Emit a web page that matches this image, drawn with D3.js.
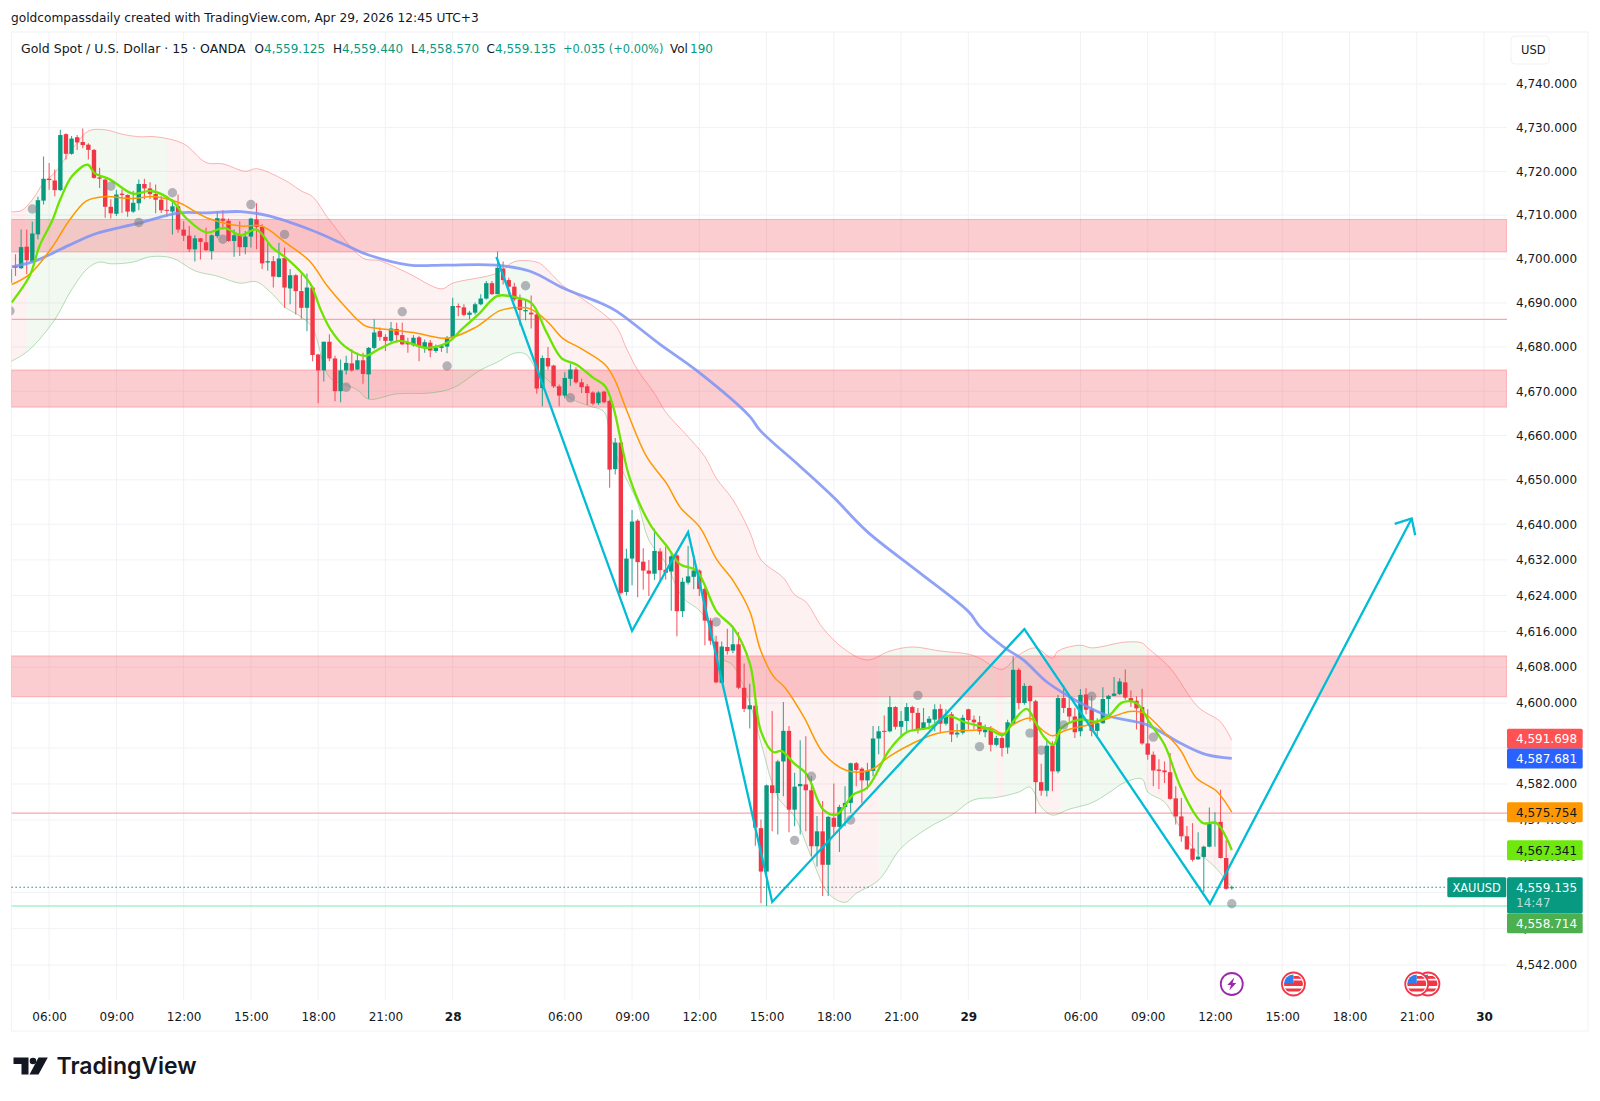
<!DOCTYPE html>
<html>
<head>
<meta charset="utf-8">
<script src="https://cdn.jsdelivr.net/npm/d3@7"></script>
<style>
  html, body { margin: 0; padding: 0; background: #fff; }
  text { font-family: "DejaVu Sans", sans-serif; }
</style>
</head>
<body>
<svg id="chart" width="1600" height="1101"></svg>
<script>
// 15 minute candles, bar 0 is the first bar of the 28th
const firstBar = -79;
const opens = [4694.6,4698.4,4697.9,4702.8,4699.4,4705.6,4713.3,4718.3,4717.9,4715.7,4728.5,4724,4727.8,4726.7,4726.1,4724.9,4718.6,4718.1,4711.9,4710.3,4714.9,4714.6,4710.8,4712.7,4717.1,4716.1,4714.8,4713.5,4711.2,4710.8,4712,4706.7,4705.3,4702.2,4704.7,4703.8,4701.8,4705.2,4709.2,4708.7,4704.1,4705.4,4702.7,4705.1,4709,4707.3,4699.2,4699.5,4695.9,4700.2,4693.3,4696.3,4692.7,4688.9,4693.5,4678.3,4674.7,4681.2,4677.4,4670,4674.7,4676.3,4674.9,4677,4673.8,4679.8,4683.6,4682.3,4681.4,4684.1,4682.7,4681,4680.4,4682.2,4680,4681,4679.1,4679.8,4680.1,
  4682.3,4689.3,4689,4687.3,4687.8,4689.7,4691,4694.5,4692,4697.8,4695.2,4693.7,4690.8,4688.1,4687.8,4687.4,4670.7,4677.5,4675.8,4671.1,4669,4672.8,4674.9,4672,4671.1,4669.7,4667.3,4669.9,4667.8,4652.4,4658.4,4624.8,4632.3,4640.8,4631.6,4629.6,4628.9,4633.9,4629.8,4629.4,4633,4620.5,4626.9,4628.2,4629.6,4625.5,4618.4,4613.7,4604.5,4612.5,4611.7,4613.1,4603.4,4598.6,4599.4,4572.2,4562.6,4581.7,4580,4587,4593.8,4576.3,4581.5,4581.9,4580.6,4568.2,4571.5,4564.1,4574.5,4572.5,4576.9,4577.8,4586.6,4585.4,4582.8,4584.9,4592.1,4593.8,4593.7,4599.1,4594.7,4596,4599.1,4597.8,4594.3,4595.6,4596.3,4598.7,4595.4,4597.5,4593,4593.4,4598.6,4596.3,4595.7,4593.5,
  4594.1,4590.7,4592.2,4590.1,4595.5,4607.4,4600,4603.8,4600.4,4582.4,4580.5,4590.5,4584.8,4601.1,4598.9,4597,4593.7,4601.9,4598.6,4593.8,4595.5,4600.9,4601.6,4602,4604.6,4601.1,4600.5,4599.1,4591,4588.5,4585.2,4585,4584.6,4578.8,4574.8,4570.4,4567.7,4565.3,4565.8,4568.1,4573.2,4573.6,4565.6,4559.125];
const highs = [4698.4,4701.1,4706.7,4706.7,4708.5,4714.2,4723.4,4721.9,4720.4,4729.5,4728.7,4728.1,4728.3,4729.8,4726.4,4725.1,4720.8,4718.3,4713.6,4715.8,4715.8,4714.7,4715.5,4718.1,4718.3,4717.5,4717,4714.3,4714.2,4713.6,4714.7,4708.6,4707.5,4705.4,4704.8,4707.1,4705.6,4710.9,4711.1,4709.2,4706.7,4708.6,4706.4,4709.4,4712.7,4707.9,4703.7,4700.7,4703.7,4702.6,4697.7,4696.5,4696.5,4696.7,4693.9,4678.5,4681.2,4682.9,4678,4677.2,4678,4679.5,4678.7,4678.7,4680,4686.3,4684.4,4682.9,4685.7,4685.5,4685.5,4682.1,4682.7,4682.5,4681.7,4681.6,4680.6,4680.6,4682.5,
  4691.2,4689.9,4689.7,4688.2,4690.1,4692,4695,4695,4701.7,4699.4,4695.7,4694.6,4691.9,4690.9,4691.7,4687.8,4678.1,4680,4676,4671.5,4674.3,4676.2,4675.4,4672.8,4671.6,4670,4670,4670.1,4668.1,4659.4,4658.6,4634.5,4643.2,4641.1,4634.6,4632,4639,4634.6,4635,4633.7,4633.4,4628,4635.1,4633,4629.9,4626.1,4619,4615,4613.7,4616.6,4616.7,4615.8,4608.8,4604.3,4599.7,4574.1,4581.9,4598.2,4587.4,4600.2,4594.9,4584.5,4591.7,4592.6,4583.7,4574.9,4578.2,4574.9,4582.1,4577.4,4581.5,4586.7,4586.9,4585.7,4586.7,4594.9,4594.9,4597.2,4601.5,4599.3,4598.2,4600,4599.4,4598.9,4598.9,4597.1,4599.7,4599.7,4598.6,4598,4595.4,4597.4,4598.7,4597.2,4597.1,4595.2,
  4594.9,4592.7,4593.3,4596.3,4610.4,4607.8,4604.4,4604,4600.7,4586.5,4591.5,4591.5,4601.8,4604,4601.5,4598.9,4603.1,4603.3,4601.5,4596.6,4603.5,4601.8,4605.8,4605.5,4607.5,4602.8,4601.5,4603.2,4598.6,4589.2,4587.5,4587,4588.9,4581.5,4578.9,4572.7,4573.3,4571.3,4568.3,4576.8,4575.7,4580.7,4569.5,4559.44];
const lows = [4693.1,4696.1,4697.7,4696.5,4699.2,4704.5,4712.4,4715.8,4714.3,4715.5,4722.7,4723.8,4724.9,4725.3,4722.7,4718.3,4716.2,4709.4,4709.2,4709.8,4710.5,4709.6,4710.5,4711.1,4713.6,4713.7,4710.4,4710.5,4709.6,4705.6,4706,4704.1,4701.6,4699.4,4699.9,4701.8,4699.9,4704.8,4706.7,4703.9,4700.5,4700.7,4701.1,4702.6,4702.2,4697.7,4697.3,4693.5,4695.8,4688.9,4689.7,4687.4,4686.4,4683.6,4676.8,4667.3,4672.2,4676.8,4667.7,4667.5,4673.8,4674.4,4674.8,4671.7,4668.3,4679.5,4681.4,4679.1,4681,4681,4680.5,4678.7,4680.1,4676.8,4678.7,4677.7,4678.7,4678.9,4678.6,
  4682.1,4687,4687,4686.3,4687.4,4689.5,4690.8,4691.8,4692,4694.2,4691.9,4690.4,4684.9,4686.1,4684.2,4669.4,4666.6,4674.9,4670.7,4666.6,4668.4,4671.2,4671.7,4669.6,4666.9,4666.8,4666.9,4667.2,4648.2,4651.2,4624.2,4624,4626.3,4623.6,4625.3,4623.9,4627.5,4627.2,4627.6,4620.6,4614.9,4619.2,4626.5,4625.4,4623.9,4612.9,4613,4604.4,4604.3,4610.8,4611.1,4603.1,4598,4594.3,4568.3,4555.6,4555,4571.5,4570.8,4579.3,4571.3,4572.6,4570.8,4571.5,4566,4563.7,4557.2,4557.2,4570.8,4566.9,4572.6,4575.6,4581.5,4577.8,4580.8,4583.7,4588.6,4587.1,4593.5,4594.1,4592.3,4593.7,4593.7,4593.2,4594,4594.1,4593.7,4593.2,4595,4591.3,4592.3,4593,4594.1,4594.1,4593,4592.4,
  4589.2,4590.4,4588.1,4588.7,4595.2,4598.6,4599.6,4595.9,4575.5,4579.4,4579.2,4580.4,4584.4,4597.8,4595.9,4592.2,4592.6,4597.5,4592.6,4592.2,4595.4,4597.4,4601.5,4601.8,4600.7,4599.1,4594.1,4590.7,4587.4,4581.5,4580.9,4582.2,4578.5,4573,4569.2,4567.5,4564.8,4565.2,4558.1,4568,4568.1,4565.5,4558.6,4558.57];
const closes = [4697.7,4698,4702.7,4699.7,4705.8,4713.4,4718.3,4718,4715.7,4728.3,4724,4727.5,4726.6,4726,4724.9,4718.5,4718.3,4711.9,4710.4,4714.7,4714.6,4710.8,4712.8,4717.1,4716.1,4714.8,4713.5,4711.1,4711.1,4712,4706.7,4705.3,4702.2,4704.7,4703.9,4702,4705.4,4709.3,4708.7,4704.1,4705.4,4702.7,4705.1,4709.2,4707.3,4699,4699.5,4696,4700.1,4693.5,4696.3,4692.7,4688.9,4693.5,4678.2,4674.7,4681.2,4677.4,4670,4674.7,4676.4,4674.7,4677,4673.9,4679.8,4683.3,4682.3,4681.4,4684.2,4682.7,4680.6,4680.6,4682.1,4680,4681.1,4679.2,4679.8,4680.2,4682.1,
  4689.3,4689,4687.3,4687.8,4689.7,4691,4694.5,4692,4698,4695.2,4693.7,4690.8,4688.4,4688.4,4687.4,4670.6,4677.5,4675.6,4671.1,4669,4673,4674.9,4672,4670.9,4669.6,4667.2,4669.7,4667.5,4652.3,4658.4,4624.6,4632.3,4640.6,4631.5,4629.6,4628.9,4634,4629.7,4629.1,4632.8,4620.5,4627.1,4628.3,4629.6,4625.5,4618.4,4613.9,4604.6,4612.6,4611.6,4613.1,4603.4,4598.7,4599.5,4572.3,4562.6,4581.7,4580,4587,4593.8,4576.3,4581.4,4582,4580.6,4568.2,4571.5,4564.1,4574.7,4572.5,4576.9,4577.8,4586.6,4585.1,4582.8,4584.9,4592.1,4593.7,4593.6,4599.1,4594.7,4596,4599.1,4597.8,4594.1,4595.7,4596.5,4598.6,4595.4,4597.4,4593,4593.4,4596.7,4596.2,4595.7,4593.7,4594.1,
  4590.7,4592.2,4590,4595.7,4607.4,4600,4603.8,4600.4,4582.4,4580.5,4590.5,4584.8,4601.1,4598.9,4597,4593.5,4601.8,4598.5,4593.8,4595.5,4600.9,4601.6,4602.1,4604.8,4601.2,4600.5,4598.8,4591,4588.5,4585,4584.9,4584.6,4578.7,4574.8,4570.4,4567.5,4565.2,4565.9,4568.1,4573.2,4573.6,4565.6,4558.8,4559.135];

// moving averages, sampled where the line bends
const fastBars = [-78.7,-75.5,-73.7,-71.5,-70,-67.9,-65.1,-63.9,-61.1,-57.1,-53.7,-50,-47.6,-43.9,-40.8,-37.8,-35,-32.2,-29.8,-26.7,-25.2,-23.6,-21.8,-19.3,-15.6,-13.2,-9.5,-4.6,-0.9,1.6,4.6,8,11.4,14.1,16.8,19.4,22.1,25.1,27.2,28.7,30.1,31.6,35.2,38.2,40.6,43.5,47.1,50.1,53,55,57.2,58.7,60.8,63.2,66.1,68.5,71.5,73.9,78,81,85.2,88.1,91.7,95.3,98.2,100,102.4,104.2,105.4,107.2,108.6,111.9,114.9,117.3,119.4,122,124.4,127,129.8,132.7,133.9,136.3,139];
const fastValues = [4690.1,4696.1,4703,4708.6,4713.6,4718.9,4721.5,4719.6,4718.1,4714.9,4715.5,4713.2,4709.4,4706,4707.1,4705.4,4706.7,4702.6,4700.3,4696.5,4693.9,4688.6,4684,4680.2,4678,4679.5,4681.4,4679.8,4681,4684,4687.4,4691.6,4691.2,4689.9,4683.2,4677.5,4676,4673,4671.1,4666.2,4658.2,4650.3,4640,4635.1,4631,4629.6,4620.4,4616.7,4608.9,4593.7,4589.1,4589.3,4586.7,4584.1,4576.3,4575.2,4579.7,4581.1,4589.7,4593.5,4594.6,4597.1,4595.6,4594.4,4592.9,4595.9,4598.7,4595.2,4592.6,4590.7,4594.4,4596.3,4595.9,4597.4,4600.1,4600,4595.5,4590.7,4581.5,4574.8,4573.3,4573.3,4567.341];
const slowBars = [-78.7,-75.5,-71.5,-68.5,-65.4,-62.3,-57.4,-53.1,-48.8,-43.9,-37.8,-34.1,-29.8,-25.5,-22.4,-19.3,-15.6,-13.2,-7,-0.9,4,8.3,10.8,13.8,16.8,19.7,22.7,27.2,28.9,31,34.6,38.2,40.6,44.1,47.1,50.1,53,54.9,57.2,59.3,62.6,66.1,70.3,74.5,78,82.2,85.8,88.7,93.5,95.9,98.2,100,103,104.8,107,109.5,113.7,117.9,120.8,123.2,127.4,129.8,132.7,136.3,139];
const slowValues = [4694.2,4696.5,4702.6,4708.6,4713.2,4714.2,4713.8,4714.2,4712.8,4709.4,4707.5,4707.5,4703.7,4699.5,4693.9,4689.3,4684.8,4684.2,4683.3,4682,4684.4,4688.2,4688.9,4688.7,4685.9,4681.9,4679.8,4676,4672.6,4665.8,4655.2,4649.1,4643.8,4639.3,4632.1,4627.2,4620.5,4611.9,4606,4603.4,4597,4588.9,4585,4585.1,4588.2,4591.1,4593,4593.7,4594,4594.5,4593.2,4595.2,4596.6,4594.4,4592.7,4594,4595.2,4597,4598.1,4597.8,4592.9,4589.6,4583.3,4580.4,4575.754];
const longBars = [-78.7,-74.6,-68.5,-63.6,-56.2,-48.8,-43.9,-37.8,-32.8,-25.5,-19.3,-15,-7.7,-1.5,7.7,13.8,19.7,26.9,29.3,37,43.5,53,54.8,62,68,73.9,83,92.1,94.1,98.2,101.8,105.9,109.5,113.7,117.3,123.8,129.8,134.5,139];
const longValues = [4698.2,4699.5,4703.1,4705.8,4708.1,4710.5,4710.5,4710.8,4709.8,4706.7,4703.3,4700.9,4698.6,4698.6,4698.6,4697.2,4693.4,4689.7,4688.1,4680.6,4674.7,4664.3,4661.2,4653,4646,4638.4,4629.4,4620.3,4617,4612.6,4609.6,4604.8,4601.8,4598.9,4597,4595.2,4591.1,4588.5,4587.681];

// bands
const upperBars = [-79,-77,-75,-73,-71,-68,-65,-62,-59,-56,-53,-48,-44,-41,-37,-35,-30,-27,-25,-22,-16,-13,-8,-2,0,8,11,15,16,20,23,29,31,33,36,38,42,45,47,50,53,55,59,61,63,66,70,74,78,82,87,92,94,98,101,104,107,108,112,114,120,123,124,128,133,137,139];
const upperValues = [4710.8,4711,4713.5,4717.4,4719.7,4724.9,4729.2,4729.5,4728.5,4727.9,4727.9,4726.3,4722,4721.7,4720,4720.6,4718,4715.5,4714.2,4708.9,4700.2,4699.6,4696.8,4693.2,4694.5,4696.8,4699.4,4699.3,4698.6,4693.6,4691.1,4685,4679.7,4674.8,4669.5,4665.3,4659.7,4655.2,4650.4,4645.5,4638.3,4632,4628,4624.2,4622.6,4616.8,4611.9,4609.6,4611.6,4612.5,4611.6,4610.9,4610,4607.5,4610.7,4612.3,4610,4611.6,4612.9,4612.3,4613.6,4613.4,4612.3,4607.8,4599.1,4595.8,4591.698];
const lowerBars = [-79,-77,-75,-71,-68,-65,-63,-61,-57,-54,-50,-46,-42,-38,-35,-32,-30,-27,-25,-22,-19,-17,-15,-10,-4,0,5,8,11,13,15,17,21,24,27,28,30,33,35,38,41,44,46,48,50,53,55,58,61,64,67,70,72,76,80,85,89,93,97,101,103,105,107,110,114,117,120,123,124,127,129,132,136,139];
const lowerValues = [4676.6,4678,4680,4686.2,4693,4698,4699.3,4698.9,4699.3,4700.5,4700.2,4697.3,4696.1,4694.5,4694.8,4691.8,4689.1,4686.8,4684.3,4673.2,4671.4,4670.3,4668.2,4669.4,4669.6,4670.7,4674.8,4676.6,4678.6,4678.4,4674.8,4672.5,4668.4,4666.8,4665.3,4660.5,4652.9,4644.8,4636.4,4631.3,4623.6,4620.7,4617,4610,4608.4,4600,4591.1,4579.1,4574.7,4565.8,4557.8,4555.8,4557.8,4560.7,4567.8,4572.4,4575.1,4578.5,4579,4580.2,4581.3,4576.9,4575.1,4576.4,4577.8,4580,4582.4,4583.1,4580.2,4578,4574,4568,4563.6,4559.1];
// where the band fill changes colour
const bandBreaks = [-80,-76,-51,0,14,76,97,98.2,104.5,108.5,123.5,140];
const bandColors = ["down","up","down","up","down","up","down","up","down","up","down"];

const dotBars = [-79,-75,-61,-56,-50,-41,-36,-30,-19,-9,-1,13,21,47,61,64,71,83,94,103,105,109,114,125,139];
const dotValues = [4688.2,4711.4,4716.6,4708.3,4715.1,4704.5,4712.4,4705.6,4670.9,4688,4675.7,4693.9,4668.5,4618.1,4569.5,4583.7,4574,4601.7,4590.3,4593.3,4589.5,4595.1,4601.5,4592.4,4555.5];

const zoneTops = [4709, 4674.8, 4610.5];
const zoneBottoms = [4701.6, 4666.4, 4601.4];
const pinkLevels = [4686.25, 4575.55];
const greenLevel = 4555;
const lastPrice = 4559.135;

const zigBars = [7.8, 32, 42, 57, 102, 135.1, 171.1];
const zigValues = [4700.5, 4616.1, 4638.2, 4555.9, 4616.5, 4555.5, 4641.3];

const priceTicks = [4740,4730,4720,4710,4700,4690,4680,4670,4660,4650,4640,4632,4624,4616,4608,4600,4590,4582,4574,4566,4558,4550,4542];
// these two sit fully behind the price tags
const hiddenPriceLabels = [4590, 4558];
const timeBars = [-72,-60,-48,-36,-24,-12,0,20,32,44,56,68,80,92,112,124,136,148,160,172,184];
const timeLabels = ["06:00","09:00","12:00","15:00","18:00","21:00","28","06:00","09:00","12:00","15:00","18:00","21:00","29","06:00","09:00","12:00","15:00","18:00","21:00","30"];

const priceTags = [
  { value: 4591.698, shift: -1.5, text: "4,591.698", fill: "#ff5252", color: "#fff" },
  { value: 4587.681, shift: 0, text: "4,587.681", fill: "#2962ff", color: "#fff" },
  { value: 4575.754, shift: 0, text: "4,575.754", fill: "#ff9800", color: "#131722" },
  { value: 4567.341, shift: 0, text: "4,567.341", fill: "#6fe80e", color: "#131722" },
  { value: 4558.714, shift: 34, text: "4,558.714", fill: "#4caf50", color: "#fff" }
];

const upColor = "#089981", downColor = "#f23645", gridColor = "#f1f2f6";
const paneLeft = 11.4, paneRight = 1507, paneTop = 32, paneBottom = 1000, outerRight = 1588, outerBottom = 1031;

const x = d3.scaleLinear().domain([-79, 184]).range([9.9, 1484]);
const y = d3.scaleLog().domain([4740, 4542]).range([84, 965]);

const svg = d3.select("#chart");
const defs = svg.append("defs");

defs.append("clipPath").attr("id", "pane")
  .append("rect")
  .attr("x", paneLeft).attr("y", paneTop)
  .attr("width", paneRight - paneLeft).attr("height", paneBottom - paneTop);

// title above the chart
svg.append("text").attr("x", 11).attr("y", 22)
  .attr("font-size", 12.2).attr("fill", "#131722")
  .text("goldcompassdaily created with TradingView.com, Apr 29, 2026 12:45 UTC+3");

// outer frame
svg.append("rect")
  .attr("x", paneLeft).attr("y", paneTop)
  .attr("width", outerRight - paneLeft).attr("height", outerBottom - paneTop)
  .attr("fill", "none").attr("stroke", gridColor);

// grid
const grid = svg.append("g");
grid.selectAll(".h").data(priceTicks).join("line").attr("class", "h")
  .attr("x1", paneLeft).attr("x2", paneRight)
  .attr("y1", d => y(d)).attr("y2", d => y(d))
  .attr("stroke", gridColor);
grid.selectAll(".v").data(timeBars).join("line").attr("class", "v")
  .attr("x1", d => x(d)).attr("x2", d => x(d))
  .attr("y1", paneTop).attr("y2", paneBottom)
  .attr("stroke", gridColor);

const chart = svg.append("g").attr("clip-path", "url(#pane)");

const smooth = d3.line().curve(d3.curveCatmullRom.alpha(0.5));
const curve = (bars, values) => smooth(bars.map((b, i) => [x(b), y(values[i])]));

// band fill, one clip per colour stretch
const lowerBack = smooth(lowerBars.map((b, i) => [x(b), y(lowerValues[i])]).reverse());
const bandOutline = curve(upperBars, upperValues) + lowerBack.replace("M", "L") + "Z";
bandColors.forEach((c, i) => {
  const id = "band" + i;
  defs.append("clipPath").attr("id", id).append("rect")
    .attr("x", x(bandBreaks[i])).attr("y", paneTop)
    .attr("width", x(bandBreaks[i + 1]) - x(bandBreaks[i]))
    .attr("height", paneBottom - paneTop);
  chart.append("path").attr("d", bandOutline)
    .attr("clip-path", "url(#" + id + ")")
    .attr("fill", c === "up" ? "#4caf50" : "#f23645")
    .attr("fill-opacity", c === "up" ? 0.08 : 0.07);
});

// zones
zoneTops.forEach((t, i) => {
  chart.append("rect")
    .attr("x", paneLeft).attr("width", paneRight - paneLeft)
    .attr("y", y(t)).attr("height", y(zoneBottoms[i]) - y(t))
    .attr("fill", "#f23645").attr("fill-opacity", 0.25)
    .attr("stroke", "#f23645").attr("stroke-opacity", 0.3);
});

// horizontal levels
pinkLevels.forEach(v => {
  chart.append("line").attr("x1", paneLeft).attr("x2", paneRight)
    .attr("y1", y(v)).attr("y2", y(v))
    .attr("stroke", "#f7a6ad").attr("stroke-width", 1.3);
});
chart.append("line").attr("x1", paneLeft).attr("x2", paneRight)
  .attr("y1", y(greenLevel)).attr("y2", y(greenLevel))
  .attr("stroke", "#a5f0cb").attr("stroke-width", 1.3);
svg.append("line").attr("x1", paneLeft).attr("x2", 1447)
  .attr("y1", y(lastPrice)).attr("y2", y(lastPrice))
  .attr("stroke", upColor).attr("stroke-width", 1.2).attr("stroke-dasharray", "1.5,2.5");

// band edges
chart.append("path").attr("d", curve(upperBars, upperValues))
  .attr("fill", "none").attr("stroke", "#ff5252").attr("stroke-opacity", 0.42);
chart.append("path").attr("d", curve(lowerBars, lowerValues))
  .attr("fill", "none").attr("stroke", "#4caf50").attr("stroke-opacity", 0.4);

// candles
const bars = opens.map((o, i) => ({ bar: firstBar + i, o: o, h: highs[i], l: lows[i], c: closes[i] }));
const candle = chart.selectAll(".candle").data(bars).join("g").attr("class", "candle");
candle.append("line")
  .attr("x1", d => x(d.bar)).attr("x2", d => x(d.bar))
  .attr("y1", d => y(d.h)).attr("y2", d => y(d.l))
  .attr("stroke", d => d.c >= d.o ? upColor : downColor)
  .attr("stroke-width", 1.1).attr("stroke-opacity", 0.8);
candle.append("rect")
  .attr("x", d => x(d.bar) - 2.2).attr("width", 4.4)
  .attr("y", d => y(Math.max(d.o, d.c)))
  .attr("height", d => Math.max(1, Math.abs(y(d.o) - y(d.c))))
  .attr("fill", d => d.c >= d.o ? upColor : downColor);

// moving averages
chart.append("path").attr("d", curve(longBars, longValues))
  .attr("fill", "none").attr("stroke", "#7d92f5").attr("stroke-opacity", 0.85).attr("stroke-width", 2.8);
chart.append("path").attr("d", curve(slowBars, slowValues))
  .attr("fill", "none").attr("stroke", "#ff9800").attr("stroke-width", 1.5);
chart.append("path").attr("d", curve(fastBars, fastValues))
  .attr("fill", "none").attr("stroke", "#6ae400").attr("stroke-width", 2.3);

// grey markers
chart.selectAll(".dot").data(dotBars).join("circle").attr("class", "dot")
  .attr("cx", d => x(d))
  .attr("cy", (d, i) => y(dotValues[i]))
  .attr("r", 4.7)
  .attr("fill", "#787b86").attr("fill-opacity", 0.55);

// zigzag with arrow
const zig = zigBars.map((b, i) => [x(b), y(zigValues[i])]);
const tip = zig[zig.length - 1];
chart.append("path").attr("d", d3.line()(zig))
  .attr("fill", "none").attr("stroke", "#00bcd4").attr("stroke-width", 2.3);
chart.append("path")
  .attr("d", d3.line()([[tip[0] - 17, tip[1] + 5.5], tip, [tip[0] + 3.5, tip[1] + 16.7]]))
  .attr("fill", "none").attr("stroke", "#00bcd4").attr("stroke-width", 2.3);

// axes
const priceFormat = d3.format(",.3f");
const yAxis = d3.axisRight(y).tickValues(priceTicks)
  .tickFormat(d => hiddenPriceLabels.includes(d) ? "" : priceFormat(d))
  .tickSize(0).tickPadding(9);
const gy = svg.append("g").attr("transform", "translate(" + paneRight + ",0)").call(yAxis);
gy.select(".domain").remove();
gy.selectAll("text").attr("font-size", 12).attr("fill", "#131722").attr("font-family", "DejaVu Sans");

const xAxis = d3.axisBottom(x).tickValues(timeBars).tickFormat((d, i) => timeLabels[i]).tickSize(0).tickPadding(0);
const gx = svg.append("g").attr("transform", "translate(0,1012)").call(xAxis);
gx.select(".domain").remove();
gx.selectAll("text")
  .attr("font-size", 12).attr("fill", "#131722").attr("font-family", "DejaVu Sans")
  .attr("font-weight", (d, i) => timeLabels[i].includes(":") ? 400 : 700);

// price tags
const lastY = y(lastPrice);
svg.append("rect").attr("x", 1507).attr("y", lastY - 10).attr("width", 75.7).attr("height", 36).attr("rx", 1.5).attr("fill", upColor);
svg.append("text").attr("x", 1516).attr("y", lastY + 4.5).attr("font-size", 12).attr("fill", "#fff").text("4,559.135");
svg.append("text").attr("x", 1516).attr("y", lastY + 19.5).attr("font-size", 12).attr("fill", "#fff").attr("fill-opacity", 0.7).text("14:47");
svg.append("rect").attr("x", 1447.3).attr("y", lastY - 10).attr("width", 59).attr("height", 20).attr("rx", 1.5).attr("fill", upColor);
svg.append("text").attr("x", 1452.5).attr("y", lastY + 4.5).attr("font-size", 11.4).attr("fill", "#fff").text("XAUUSD");
priceTags.forEach(t => {
  const g = svg.append("g").attr("transform", "translate(1507," + (y(t.value) + t.shift) + ")");
  g.append("rect").attr("y", -10).attr("width", 75.7).attr("height", 20).attr("rx", 1.5).attr("fill", t.fill);
  g.append("text").attr("x", 9).attr("y", 4.5).attr("font-size", 12).attr("fill", t.color).text(t.text);
});

// currency box
svg.append("rect").attr("x", 1511).attr("y", 36).attr("width", 38).attr("height", 28).attr("rx", 4)
  .attr("fill", "#fff").attr("stroke", gridColor);
svg.append("text").attr("x", 1521).attr("y", 54).attr("font-size", 11.5).attr("fill", "#131722").text("USD");

// legend row: position, text, colour, size
const legend = svg.append("g");
const legendItems = [
  [21, "Gold Spot / U.S. Dollar · 15 · OANDA", "#131722", 12.5],
  [254.5, "O", "#131722", 12], [264, "4,559.125", upColor, 12],
  [333, "H", "#131722", 12], [342, "4,559.440", upColor, 12],
  [411, "L", "#131722", 12], [418, "4,558.570", upColor, 12],
  [486.6, "C", "#131722", 12], [495, "4,559.135", upColor, 12],
  [563, "+0.035 (+0.00%)", upColor, 11.4],
  [670, "Vol", "#131722", 12], [690, "190", upColor, 12]
];
legendItems.forEach(d => {
  legend.append("text").attr("x", d[0]).attr("y", 53).attr("fill", d[2]).attr("font-size", d[3]).text(d[1]);
});

// event icons on the time scale
const eventY = 984;
const bolt = svg.append("g").attr("transform", "translate(" + x(139) + "," + eventY + ")");
bolt.append("circle").attr("r", 11).attr("fill", "#fff").attr("stroke", "#9c27b0").attr("stroke-width", 1.8);
bolt.append("path").attr("d", "M2.5,-6.5 L-4.5,1 L-0.8,1 L-2.5,6.5 L4.5,-1 L0.8,-1 Z").attr("fill", "#9c27b0");

[174, 150, 172].forEach((b, k) => {
  const id = "flag" + k;
  defs.append("clipPath").attr("id", id).append("circle").attr("r", 9.5);
  const g = svg.append("g").attr("transform", "translate(" + x(b) + "," + eventY + ")");
  g.append("circle").attr("r", 11.5).attr("fill", "#fff").attr("stroke", "#f23645").attr("stroke-width", 1.8);
  const inner = g.append("g").attr("clip-path", "url(#" + id + ")");
  [-1, 4.5].forEach(s => {
    inner.append("rect").attr("x", -10).attr("y", s).attr("width", 20).attr("height", 3).attr("fill", "#f23645");
  });
  inner.append("rect").attr("x", 0).attr("y", -8).attr("width", 10).attr("height", 2.8).attr("fill", "#f23645");
  inner.append("rect").attr("x", 0).attr("y", -3.5).attr("width", 10).attr("height", 2.8).attr("fill", "#f23645");
  inner.append("rect").attr("x", -10).attr("y", -10).attr("width", 10).attr("height", 9).attr("fill", "#2f80ed");
});

// logo
const logo = svg.append("g").attr("fill", "#131722");
logo.append("path").attr("d", "M13.5,1057.5 H28.5 V1074.5 H21.5 V1064 H13.5 Z");
logo.append("circle").attr("cx", 33).attr("cy", 1061).attr("r", 3.3);
logo.append("path").attr("d", "M38.5,1057.5 H47.8 L38.5,1074.5 H29.5 Z");
logo.append("text").attr("x", 56.5).attr("y", 1074).attr("font-size", 23).attr("font-weight", 600)
  .attr("style", "font-family: Inter, sans-serif").text("TradingView");
</script>
</body>
</html>
